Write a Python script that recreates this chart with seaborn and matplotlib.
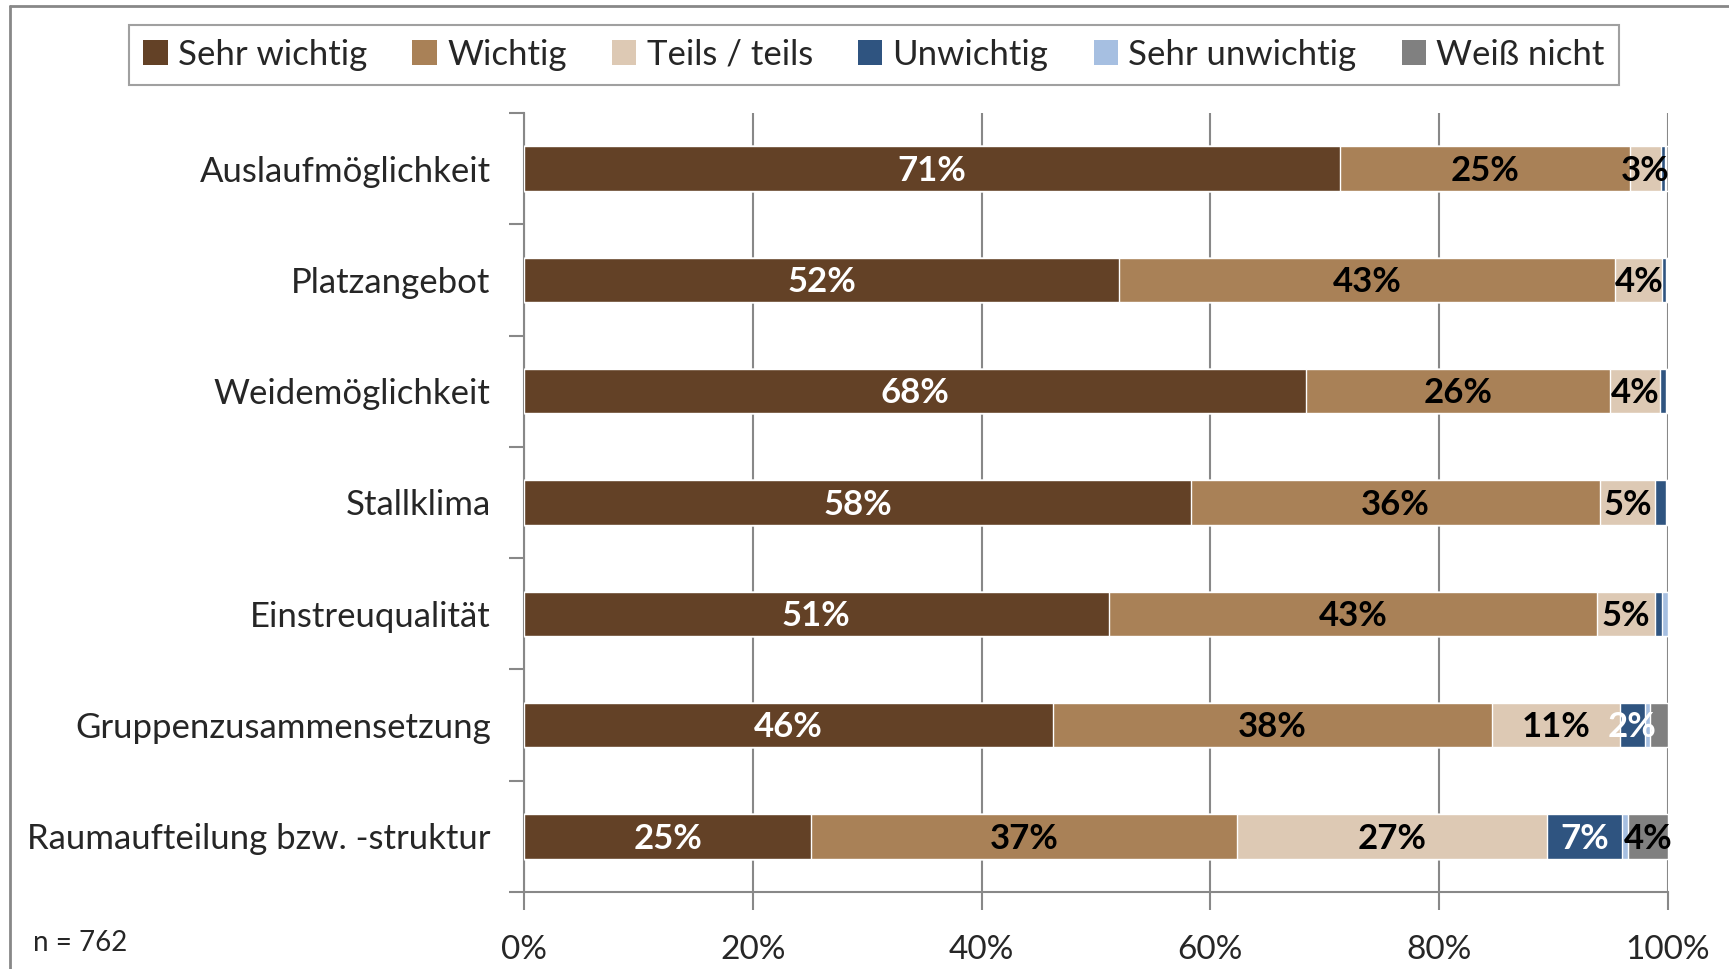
import pandas as pd
import numpy as np
import matplotlib
matplotlib.use('Agg')
import matplotlib.pyplot as plt
import seaborn as sns
from matplotlib.patches import Patch
from matplotlib.lines import Line2D

# Data (shares in %)
items = ['Auslaufmöglichkeit', 'Platzangebot', 'Weidemöglichkeit', 'Stallklima',
         'Einstreuqualität', 'Gruppenzusammensetzung', 'Raumaufteilung bzw. -struktur']
sehr_wichtig = [71.3, 52.0, 68.4, 58.3, 51.1, 46.2, 25.1]
wichtig = [25.4, 43.4, 26.5, 35.8, 42.7, 38.4, 37.2]
teils = [2.7, 4.1, 4.4, 4.8, 5.1, 11.2, 27.1]
unwichtig = [0.3, 0.3, 0.5, 0.9, 0.6, 2.2, 6.6]
sehr_unwichtig = [0.15, 0.1, 0.1, 0.1, 0.5, 0.4, 0.5]
weiss_nicht = [0.15, 0.1, 0.1, 0.1, 0.0, 1.6, 3.5]

series_names = ['Sehr wichtig', 'Wichtig', 'Teils / teils', 'Unwichtig', 'Sehr unwichtig', 'Weiß nicht']
colors = ['#634126', '#A98157', '#DDC9B4', '#2F5480', '#A6BFE1', '#808080']
text_colors = ['white', 'black', 'black', 'white', 'black', 'black']

df = pd.DataFrame({'item': items,
                   'Sehr wichtig': sehr_wichtig,
                   'Wichtig': wichtig,
                   'Teils / teils': teils,
                   'Unwichtig': unwichtig,
                   'Sehr unwichtig': sehr_unwichtig,
                   'Weiß nicht': weiss_nicht})
# normalise each row to 100 %
tot = df[series_names].sum(axis=1)
for s in series_names:
    df[s] = df[s] / tot * 100
cum = df[series_names].cumsum(axis=1)
for s in series_names:
    df['cum_' + s] = cum[s]

sns.set_style('white')
plt.rcParams['font.family'] = ['Lato', 'DejaVu Sans']

fig = plt.figure(figsize=(17.29, 9.69), dpi=100)
ax = fig.add_axes([0.3031, 0.0795, 0.6616, 0.8039])

# stacked bars: draw cumulative totals from the back to the front
for s, c in reversed(list(zip(series_names, colors))):
    sns.barplot(data=df, x='cum_' + s, y='item', order=items, orient='h',
                color=c, saturation=1, width=0.4, ax=ax, zorder=3)

# segment labels
for i in range(len(items)):
    left = 0
    for s, tc in zip(series_names, text_colors):
        v = df.loc[i, s]
        if v >= 1.8:
            ax.text(left + v / 2, i + 0.02, '{:.0f}%'.format(v), ha='center', va='center',
                    color=tc, fontsize=25, fontweight='bold', zorder=5)
        left += v

ax.set_xlim(0, 100)
ax.set_ylim(len(items) - 0.5, -0.5)
ax.set_xlabel('')
ax.set_ylabel('')
ax.set_xticks(np.arange(0, 101, 20))
ax.set_xticklabels(['{}%'.format(t) for t in range(0, 101, 20)], fontsize=24)
ax.tick_params(axis='x', length=13, width=1.5, color='#888888', pad=18, bottom=True)
ax.set_yticks(range(len(items)))
ax.set_yticklabels(items, fontsize=25)
ax.tick_params(axis='y', length=0, pad=24)
ax.set_yticks(np.arange(-0.5, len(items), 1), minor=True)
ax.tick_params(axis='y', which='minor', length=11, width=1.5, color='#888888', left=True)
ax.grid(axis='x', color='#888888', linewidth=1.5, zorder=0)
ax.set_axisbelow(True)
for side in ['top', 'right']:
    ax.spines[side].set_visible(False)
for side in ['left', 'bottom']:
    ax.spines[side].set_color('#888888')
    ax.spines[side].set_linewidth(1.5)

# legend
handles = [Patch(facecolor=c, edgecolor='none', label=s) for s, c in zip(series_names, colors)]
leg = fig.legend(handles=handles, loc='center', bbox_to_anchor=(0.5055, 0.9435), ncol=6,
                 fontsize=25, frameon=True, fancybox=False, handlelength=0.7, handleheight=0.7,
                 handletextpad=0.3, columnspacing=1.3, borderpad=0.4, borderaxespad=0)
leg.get_frame().set_edgecolor('#888888')
leg.get_frame().set_linewidth(1.5)

fig.text(33 / 1729, 1 - 943 / 969, 'n = 762', fontsize=20, va='center')

# outer chart border (left and top)
fig.add_artist(Line2D([10 / 1729, 10 / 1729], [0, 1 - 6 / 969], color='#888888', linewidth=2))
fig.add_artist(Line2D([10 / 1729, 1], [1 - 6 / 969, 1 - 6 / 969], color='#888888', linewidth=2))

fig.savefig('out.png', dpi=100)
